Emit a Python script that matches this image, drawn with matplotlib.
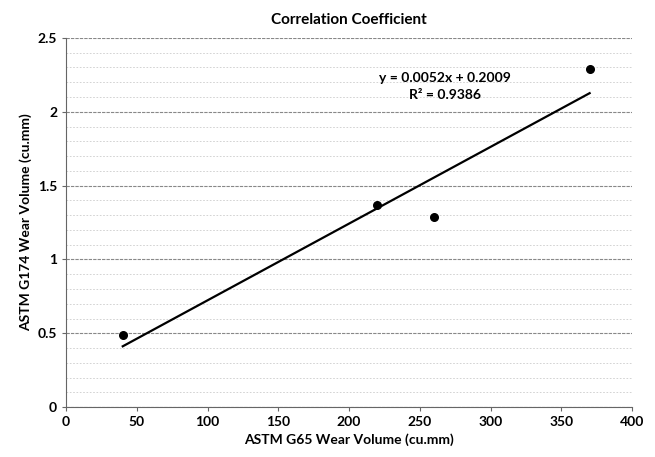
import matplotlib.pyplot as plt
import numpy as np
from matplotlib.ticker import MultipleLocator

plt.rcParams['font.family'] = ['Lato', 'DejaVu Sans']

# G65 vs G174 wear volumes (cu.mm)
g65 = [40, 220, 260, 370]
g174 = [0.49, 1.37, 1.29, 2.29]
slope, intercept = np.polyfit(g65, g174, 1)
r2 = np.corrcoef(g65, g174)[0, 1] ** 2

fig = plt.figure(figsize=(6.55, 4.57), dpi=100)
ax = fig.add_axes([0.101, 0.109, 0.864, 0.808])

ax.scatter(g65, g174, s=30, color="black", zorder=3)
xs = np.array([min(g65), max(g65)])
ax.plot(xs, slope * xs + intercept, color="black", lw=1.6, zorder=2)

ax.text(268, 2.23, "y = 0.0052x + 0.2009", ha="center", va="center",
        fontsize=10, fontweight="bold")
ax.text(268, 2.115, "R² = 0.9386", ha="center", va="center",
        fontsize=10, fontweight="bold")

ax.set_xlim(0, 400)
ax.set_ylim(0, 2.5)
ax.xaxis.set_major_locator(MultipleLocator(50))
ax.yaxis.set_major_locator(MultipleLocator(0.5))
ax.yaxis.set_minor_locator(MultipleLocator(0.1))
ax.yaxis.set_major_formatter(plt.FuncFormatter(lambda v, _: f"{v:g}"))
ax.grid(axis="y", which="major", color="#888888", lw=0.8, ls=(0, (3, 1)))
ax.grid(axis="y", which="minor", color="#cccccc", lw=0.6, ls=(0, (2, 2)))
ax.set_axisbelow(True)
for s in ["top", "right"]:
    ax.spines[s].set_visible(False)
for s in ["left", "bottom"]:
    ax.spines[s].set_color("#666666")
ax.tick_params(axis="both", which="major", labelsize=10, length=3, color="#666666")
ax.tick_params(axis="y", which="minor", length=0)
for lbl in ax.get_xticklabels() + ax.get_yticklabels():
    lbl.set_fontweight("bold")

ax.set_xlabel("ASTM G65 Wear Volume (cu.mm)", fontsize=10, fontweight="bold")
ax.set_ylabel("ASTM G174 Wear Volume (cu.mm)", fontsize=10, fontweight="bold")
ax.set_title("Correlation Coefficient", fontsize=11, fontweight="bold", pad=10)

fig.savefig("out.png", dpi=100)
